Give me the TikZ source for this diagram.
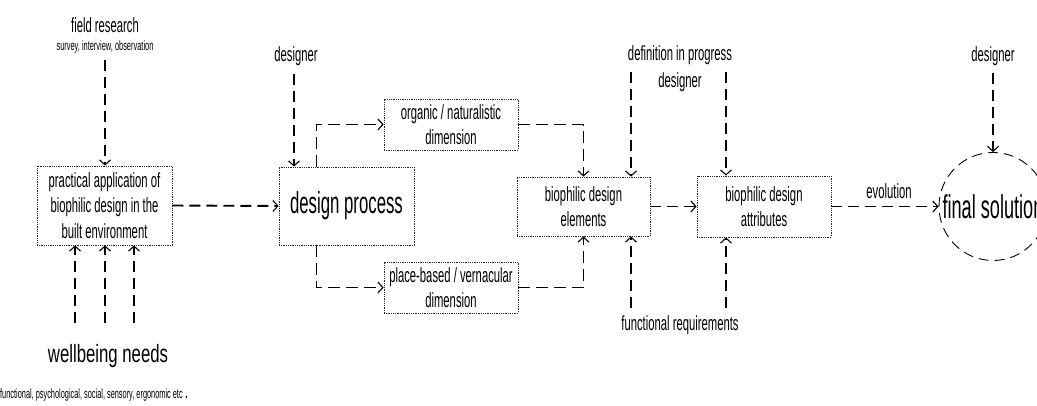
\documentclass[tikz,border=0pt]{standalone}
\usepackage{fontspec}
\setmainfont[FakeStretch=0.55]{Liberation Sans}
\newfontfamily\wbfont[FakeStretch=0.67]{Liberation Sans}
\usetikzlibrary{arrows.meta}
\begin{document}
\begin{tikzpicture}[x=1pt,y=-1pt,
  box/.style={draw=black!85, densely dotted, line width=0.8pt, inner sep=0pt, align=center,
    font=\fontsize{20.5}{25.5}\selectfont},
  tipv/.style={-{Straight Barb[length=5pt,width=11pt,line width=1.1pt]}},
  thickarr/.style={tipv, line width=1.9pt, dash pattern=on 11pt off 6pt},
  medarr/.style={tipv, line width=1.5pt, dash pattern=on 11pt off 6pt},
  thinarr/.style={tipv, line width=0.9pt, dash pattern=on 12pt off 6pt},
  lbl/.style={inner sep=0pt, font=\fontsize{20.5}{24}\selectfont},
]
\useasboundingbox (0,0) rectangle (1037,405);

% boxes
\node[box, minimum width=135pt, minimum height=79pt] (prac) at (104.5,205.5)
  {practical application of\\biophilic design in the\\built environment};
\node[box, minimum width=135pt, minimum height=78pt, font=\fontsize{30.5}{34}\selectfont] (dp) at (346.5,206) {design process};
\node[box, minimum width=134pt, minimum height=51pt] (org) at (451,124.5) {organic / naturalistic\\dimension};
\node[box, minimum width=134pt, minimum height=51pt] (place) at (451,287.5) {place-based / vernacular\\dimension};
\node[box, minimum width=133pt, minimum height=59pt] (elem) at (583.5,206.5) {biophilic design\\elements};
\node[box, minimum width=134pt, minimum height=61pt] (attr) at (764,206.5) {biophilic design\\attributes};
\node[circle, draw, dash pattern=on 10pt off 6pt, line width=0.9pt, minimum size=108pt, inner sep=0pt,
  font=\fontsize{33}{36}\selectfont] (final) at (993,206.5) {final solution};

% labels
\node[lbl] (fr) at (105,25) {field research};
\node[inner sep=0pt, font=\fontsize{13.5}{15}\selectfont] (sv) at (105,47) {survey, interview, observation};
\node[inner sep=0pt, font=\wbfont\fontsize{25}{28}\selectfont] (wb) at (108,356) {wellbeing needs};
\node[anchor=west, inner sep=0pt, font=\fontsize{13.4}{15}\selectfont] (fn) at (0,395)
  {functional, psychological, social, sensory, ergonomic etc\,{\fontsize{22}{22}\selectfont .}};
\node[lbl] (des1) at (296,56) {designer};
\node[lbl] (def) at (680,55) {definition in progress};
\node[lbl] (des2) at (680,82) {designer};
\node[lbl] (freq) at (680,325) {functional requirements};
\node[lbl] (des3) at (993,56) {designer};
\node[lbl] (evo) at (889,191) {evolution};

% free ends
\coordinate (frs) at (105,60);
\coordinate (w1) at (75,323);
\coordinate (w2) at (105,323);
\coordinate (w3) at (134,323);
\coordinate (d1) at (294,74);
\coordinate (dl) at (631,72);
\coordinate (dr) at (726,72);
\coordinate (fl) at (631,308);
\coordinate (frr) at (726,308);
\coordinate (d3) at (993,73);
\coordinate (dpx) at (316,0);

% connectors
\draw[thickarr] (frs) -- (frs |- prac.north);
\draw[medarr] (w1) -- (w1 |- prac.south);
\draw[medarr] (w2) -- (w2 |- prac.south);
\draw[medarr] (w3) -- (w3 |- prac.south);
\draw[thickarr] (prac.east) -- (dp.west);
\draw[thickarr] (d1) -- (d1 |- dp.north);
\draw[thinarr] (dp.north -| dpx) |- (org.west);
\draw[thinarr] (dp.south -| dpx) |- (place.west);
\draw[thinarr] (org.east) -| (elem.north);
\draw[thinarr] (place.east) -| (elem.south);
\draw[thickarr] (dl) -- (dl |- elem.north);
\draw[thickarr] (dr) -- (dr |- attr.north);
\draw[thickarr] (fl) -- (fl |- elem.south);
\draw[thickarr] (frr) -- (frr |- attr.south);
\draw[thickarr] (elem.east) -- (attr.west);
\draw[thickarr] (attr.east) -- (final.west);
\draw[thickarr] (d3) -- (final.north);
\end{tikzpicture}
\end{document}
